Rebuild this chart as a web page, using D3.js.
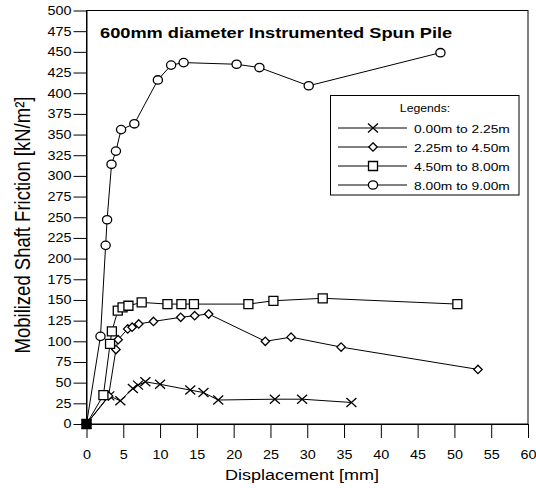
<!DOCTYPE html>
<html><head><meta charset="utf-8">
<script src="https://cdn.jsdelivr.net/npm/d3@7"></script>
<style>
body{margin:0;background:#fff;}
text{font-family:"Liberation Sans",Arial,sans-serif;fill:#000;}
</style></head>
<body><svg id="c" width="536" height="488"></svg>
<script>
// ---- data ----
const seriesNames = ["0.00m to 2.25m","2.25m to 4.50m","4.50m to 8.00m","8.00m to 9.00m"];
const seriesMarkers = ["cross","diamond","square","circle"];
const s1x = [0,3.1,4.6,6.3,7.0,8.0,10.0,14.1,15.9,17.9,25.6,29.3,36.0];
const s1y = [0,34,28,43,47,51,48,41,38,29,30,30,26];
const s2x = [0,3.0,4.0,4.3,5.6,6.2,7.1,9.1,12.8,14.7,16.6,24.3,27.8,34.6,53.2];
const s2y = [0,34,90,102,115,117,121,124,129,131,133,100,105,93,66];
const s3x = [0,2.3,3.2,3.45,4.25,4.9,5.7,7.5,11.0,12.9,14.6,22.0,25.4,32.1,50.4];
const s3y = [0,35,97,112,137,141,143,147,145,145,145,145,149,152,145];
const s4x = [0,1.9,2.6,2.8,3.4,4.0,4.7,6.5,9.7,11.5,13.2,20.4,23.5,30.2,48.1];
const s4y = [0,106,216,247,314,330,356,363,416,434,437,435,431,409,449];
const xTicks = d3.range(0,61,5);
const yTicks = d3.range(0,501,25);
const titleText = "600mm diameter Instrumented Spun Pile";
const xLabel = "Displacement [mm]";
const yLabel = "Mobilized Shaft Friction [kN/m²]";
const legendTitle = "Legends:";

const series = [[s1x,s1y],[s2x,s2y],[s3x,s3y],[s4x,s4y]].map((p,i)=>({
  name: seriesNames[i], marker: seriesMarkers[i],
  pts: p[0].map((v,j)=>[v,p[1][j]])
}));

const SX = 1.2; // horizontal stretch of the reference
const svg = d3.select("#c");
const x = d3.scaleLinear().domain([0,60]).range([86.5,528]);
const y = d3.scaleLinear().domain([0,500]).range([424,10.5]);

function markerPath(type){
  const p = d3.path();
  if(type==="square"){ p.rect(-4.5,-4.5,9,9); }
  if(type==="diamond"){ p.moveTo(0,-4.2); p.lineTo(4.2,0); p.lineTo(0,4.2); p.lineTo(-4.2,0); p.closePath(); }
  if(type==="cross"){ p.moveTo(-5,-4.5); p.lineTo(5,4.5); p.moveTo(-5,4.5); p.lineTo(5,-4.5); }
  return p.toString();
}
function drawMarker(g,type,cx,cy,fill){
  const f = fill || "#fff";
  if(type==="circle"){
    g.append("ellipse").attr("cx",cx).attr("cy",cy).attr("rx",4.6).attr("ry",4.2)
     .attr("fill",f).attr("stroke","#000").attr("stroke-width",1.3);
  } else {
    g.append("path").attr("d",markerPath(type)).attr("transform",`translate(${cx},${cy})`)
     .attr("fill",type==="cross"?"none":f).attr("stroke","#000").attr("stroke-width",1.3);
  }
}

// frame
svg.append("rect").attr("x",x(0)).attr("y",y(500)).attr("width",x(60)-x(0)).attr("height",y(0)-y(500))
  .attr("fill","none").attr("stroke","#000").attr("stroke-width",1);

// axes
const gy = svg.append("g").attr("transform",`translate(${x(0)},0)`)
  .call(d3.axisLeft(y).tickValues(yTicks).tickSize(13).tickSizeOuter(0).tickPadding(2));
const gx = svg.append("g").attr("transform",`translate(0,${y(0)})`)
  .call(d3.axisBottom(x).tickValues(xTicks).tickSize(14).tickSizeOuter(0).tickPadding(12));
[gx,gy].forEach(g=>{
  g.select(".domain").attr("stroke","#000");
  g.selectAll(".tick line").attr("stroke","#000");
  g.selectAll(".tick text").attr("font-size",12).attr("font-family","Liberation Sans, Arial, sans-serif").attr("fill","#000");
});
gy.selectAll(".tick text").attr("x",-15/SX).attr("transform",`scale(${SX},1)`);
gx.selectAll(".tick text").attr("transform",`scale(${SX},1)`);

// lines + markers
const line = d3.line().x(d=>x(d[0])).y(d=>y(d[1]));
series.forEach(s=>{
  const g = svg.append("g");
  g.append("path").attr("d",line(s.pts)).attr("fill","none").attr("stroke","#000").attr("stroke-width",1);
  s.pts.forEach(d=>drawMarker(g,s.marker,x(d[0]),y(d[1]), (d[0]===0&&d[1]===0)?"#000":"#fff"));
});

// title
svg.append("text").attr("transform",`translate(100,38) scale(${SX},1)`)
  .attr("font-size",15.2).attr("font-weight","bold").text(titleText);

// axis titles
svg.append("text").attr("transform",`translate(302,480) scale(${SX},1)`)
  .attr("text-anchor","middle").attr("font-size",15).text(xLabel);
svg.append("text").attr("transform",`translate(30,225) scale(${SX},1) rotate(-90)`)
  .attr("text-anchor","middle").attr("font-size",18.5).text(yLabel);

// legend
const lg = svg.append("g");
lg.append("rect").attr("x",330.5).attr("y",95.5).attr("width",188.5).attr("height",99.5)
  .attr("fill","#fff").attr("stroke","#000").attr("stroke-width",1);
lg.append("text").attr("transform",`translate(425,112) scale(${SX},1)`).attr("text-anchor","middle")
  .attr("font-size",10.2).text(legendTitle);
series.forEach((s,i)=>{
  const ly = 128 + i*19;
  lg.append("line").attr("x1",338).attr("x2",407).attr("y1",ly).attr("y2",ly).attr("stroke","#000").attr("stroke-width",1);
  drawMarker(lg,s.marker,373,ly);
  lg.append("text").attr("transform",`translate(414,${ly+4.5}) scale(${SX},1)`)
    .attr("font-size",11.5).text(s.name);
});
</script></body></html>
